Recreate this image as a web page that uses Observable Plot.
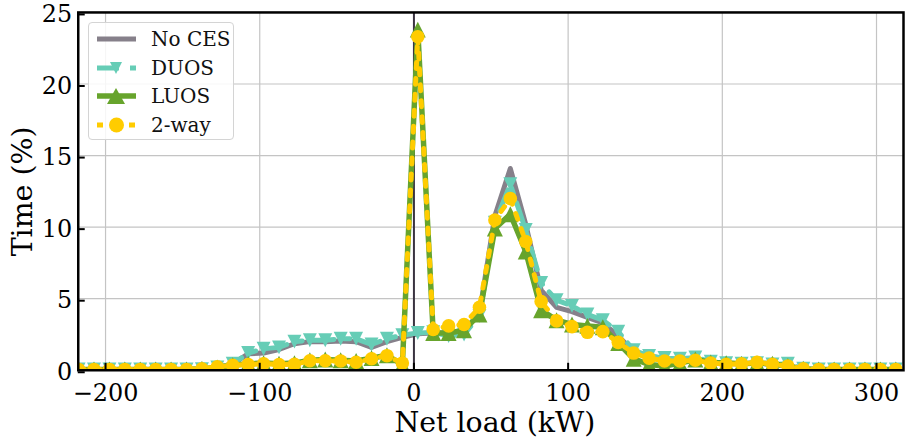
<!DOCTYPE html>
<html><head><meta charset="utf-8">
<script src="https://cdn.jsdelivr.net/npm/d3@7"></script>
<script src="https://cdn.jsdelivr.net/npm/@observablehq/plot@0.6"></script>
<style>
body{margin:0;background:#fff;}
#wrap{position:relative;width:906px;height:442px;overflow:hidden;font-family:"DejaVu Serif",serif;}
#legend{position:absolute;left:88px;top:22px;width:146px;height:118px;border:1px solid #d4d4d4;border-radius:4px;background:rgba(255,255,255,0.85);box-sizing:border-box;}
.row{position:absolute;left:0;height:28px;width:146px;}
.row svg{position:absolute;left:7px;top:0;}
.row span{position:absolute;left:62px;top:1px;font-size:20px;line-height:26px;color:#111;white-space:nowrap;}
</style></head><body><div id="wrap"></div>
<script>
// Net load bins (kW)
const netLoad = [-217.5,-207.5,-197.5,-187.5,-177.5,-167.5,-157.5,-147.5,-137.5,-127.5,
  -117.5,-107.5,-97.5,-87.5,-77.5,-67.5,-57.5,-47.5,-37.5,-27.5,
  -17.5,-7.5,2.5,12.5,22.5,32.5,42.5,52.5,62.5,72.5,
  82.5,92.5,102.5,112.5,122.5,132.5,142.5,152.5,162.5,172.5,
  182.5,192.5,202.5,212.5,222.5,232.5,242.5,252.5,262.5,272.5,
  282.5,292.5,302.5,312.5];
// Time (%) per series
const noCES = [0.05,0.05,0.05,0.05,0.05,0.05,0.05,0.05,0.08,0.2,
  0.45,1.15,1.2,1.45,1.85,2.0,2.0,2.05,2.0,1.6,
  2.0,2.3,2.55,2.6,2.6,2.75,4.0,10.8,14.1,10.2,
  5.6,4.4,4.1,3.7,3.3,2.4,1.3,1.0,0.8,0.75,
  0.75,0.55,0.45,0.45,0.5,0.4,0.3,0.08,0.05,0.05,
  0.05,0.05,0.05,0.05];
const duos = [0.05,0.05,0.05,0.05,0.05,0.05,0.05,0.05,0.08,0.2,
  0.45,1.2,1.5,1.6,2.0,2.1,2.1,2.2,2.2,1.8,
  2.2,2.45,2.6,2.65,2.4,2.5,3.8,10.3,13.0,9.8,
  6.1,4.9,4.5,3.9,3.5,2.7,1.4,1.0,0.85,0.8,
  0.9,0.6,0.5,0.45,0.5,0.4,0.45,0.1,0.06,0.06,
  0.06,0.06,0.06,0.06];
const luos = [0.06,0.06,0.06,0.06,0.06,0.06,0.06,0.06,0.1,0.2,
  0.35,0.45,0.5,0.45,0.5,0.7,0.75,0.7,0.65,0.85,
  1.05,0.4,23.8,2.6,2.6,2.8,3.9,9.9,10.9,8.3,
  4.2,3.5,3.2,3.1,3.0,1.9,0.8,0.4,0.3,0.5,
  0.75,0.55,0.5,0.45,0.5,0.45,0.3,0.1,0.06,0.06,
  0.06,0.06,0.06,0.06];
const twoWay = [0.06,0.06,0.06,0.06,0.06,0.06,0.06,0.06,0.1,0.24,
  0.35,0.4,0.46,0.4,0.42,0.66,0.66,0.65,0.56,0.8,
  1.02,0.5,23.3,2.85,3.1,3.2,4.4,10.5,12.0,9.0,
  4.8,3.45,3.05,2.65,2.7,1.95,1.2,0.85,0.65,0.65,
  0.7,0.5,0.42,0.45,0.55,0.42,0.3,0.1,0.06,0.06,
  0.06,0.06,0.06,0.06];
const xTicks = [-200,-100,0,100,200,300];
const yTicks = [0,5,10,15,20,25];
const seriesNames = ["No CES","DUOS","LUOS","2-way"];
const colors = {gray:"#86808a", teal:"#66cdb6", green:"#67a42c", yellow:"#ffcc00"};

const rows = netLoad.map((x,i)=>({x, noCES:noCES[i], duos:duos[i], luos:luos[i], twoWay:twoWay[i]}));

const triUp = {draw(ctx,size){const h=Math.sqrt(size)/2;ctx.moveTo(0,-h);ctx.lineTo(h,h);ctx.lineTo(-h,h);ctx.closePath();}};
const triDown = {draw(ctx,size){const h=Math.sqrt(size)/2;ctx.moveTo(0,h);ctx.lineTo(h,-h);ctx.lineTo(-h,-h);ctx.closePath();}};
const rFor = ms => ms/Math.sqrt(Math.PI);
const minus = d => d<0 ? "\u2212"+Math.abs(d) : String(d);

const chart = Plot.plot({
  width: 909, height: 442,
  marginLeft: 78, marginRight: 3, marginTop: 12, marginBottom: 71,
  style: {fontFamily: "DejaVu Serif", color: "black", background: "white", overflow: "visible"},
  x: {domain: [-217.7, 317.5]},
  y: {domain: [0, 25]},
  marks: [
    Plot.ruleX(xTicks, {stroke: "#c4c4c4", strokeWidth: 1.2}),
    Plot.ruleY(yTicks, {stroke: "#c4c4c4", strokeWidth: 1.2}),
    Plot.line(rows, {x:"x", y:"noCES", stroke: colors.gray, strokeWidth: 5, clip: true}),
    Plot.ruleX([0], {stroke: "#3a3340", strokeWidth: 2}),
    Plot.line(rows, {x:"x", y:"duos", stroke: colors.teal, strokeWidth: 5, strokeDasharray: "22,10,6,10", clip: true}),
    Plot.dot(rows, {x:"x", y:"duos", symbol: triDown, r: rFor(14), fill: colors.teal, clip: true}),
    Plot.line(rows, {x:"x", y:"luos", stroke: colors.green, strokeWidth: 5.5, clip: true}),
    Plot.dot(rows, {x:"x", y:"luos", symbol: triUp, r: rFor(16), fill: colors.green, clip: true}),
    Plot.line(rows, {x:"x", y:"twoWay", stroke: colors.yellow, strokeWidth: 5, strokeDasharray: "6,10", clip: true}),
    Plot.dot(rows, {x:"x", y:"twoWay", r: 6.8, fill: colors.yellow, clip: true}),
    Plot.frame({stroke: "black", strokeWidth: 2.5}),
    Plot.axisX(xTicks, {tickSize: -7, tickPadding: 21, fontSize: 24, strokeWidth: 2, tickFormat: minus, label: null}),
    Plot.axisY(yTicks, {tickSize: -7, tickPadding: 13, fontSize: 24, strokeWidth: 2, tickFormat: minus, label: null, dy: 2}),
    Plot.text(["Net load (kW)"], {frameAnchor: "bottom", textAnchor: "middle", dx: 4, dy: 62, lineAnchor: "bottom", fontSize: 28.5, fill: "black"}),
    Plot.text(["Time (%)"], {frameAnchor: "left", textAnchor: "middle", dx: -56, rotate: -90, fontSize: 28.5, fill: "black"})
  ]
});
const wrap = document.getElementById("wrap");
wrap.appendChild(chart);

// Legend
const leg = document.createElement("div");
leg.id = "legend";
const samples = [
  {name: seriesNames[0], svg: `<line x1="1" x2="40" y1="14" y2="14" stroke="${colors.gray}" stroke-width="5"/>`},
  {name: seriesNames[1], svg: `<line x1="1" x2="40" y1="14" y2="14" stroke="${colors.teal}" stroke-width="5" stroke-dasharray="22,11,6,10"/><path d="M14,8 L26,8 L20,20 Z" fill="${colors.teal}"/>`},
  {name: seriesNames[2], svg: `<line x1="1" x2="40" y1="14" y2="14" stroke="${colors.green}" stroke-width="5.5"/><path d="M20,6 L29,22 L11,22 Z" fill="${colors.green}"/>`},
  {name: seriesNames[3], svg: `<line x1="1" x2="40" y1="14" y2="14" stroke="${colors.yellow}" stroke-width="5" stroke-dasharray="6,10"/><circle cx="20.5" cy="14" r="7.5" fill="${colors.yellow}"/>`}
];
const tops = [2, 30.5, 59, 88];
samples.forEach((s,i)=>{
  const r = document.createElement("div");
  r.className = "row";
  r.style.top = tops[i] + "px";
  r.innerHTML = `<svg width="44" height="28">${s.svg}</svg><span>${s.name}</span>`;
  leg.appendChild(r);
});
wrap.appendChild(leg);
</script>
</body></html>
